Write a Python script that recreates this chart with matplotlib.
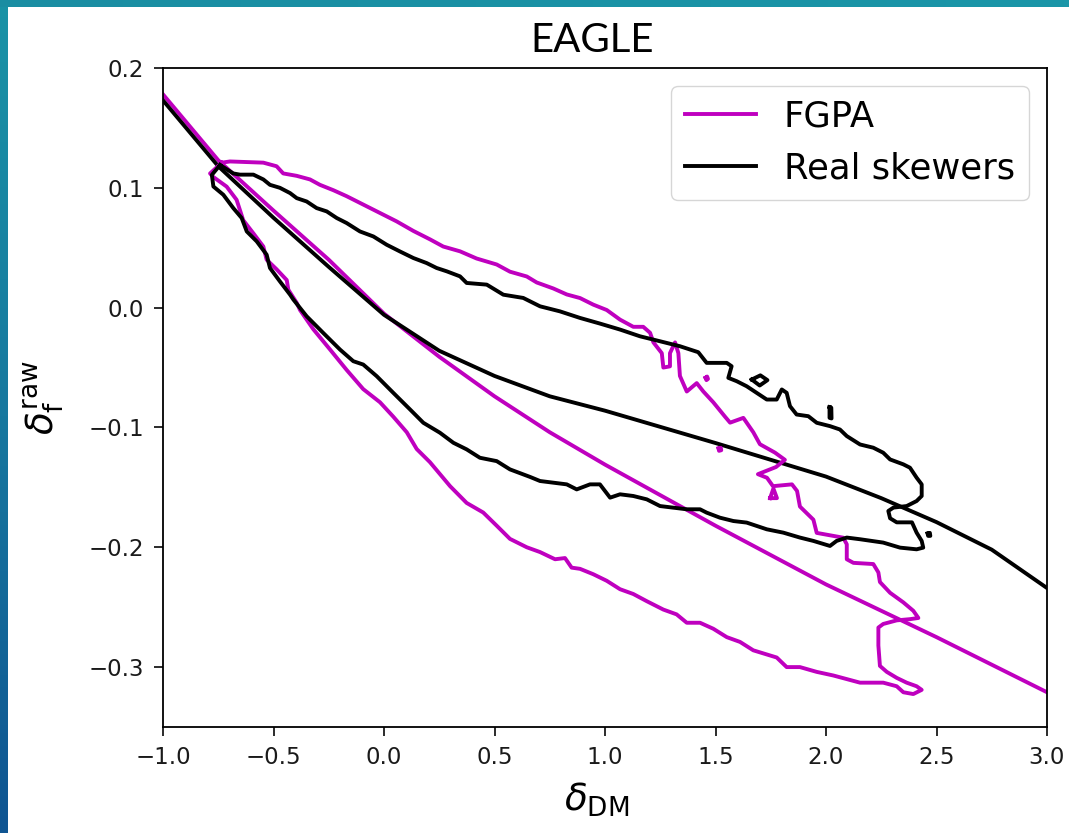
import numpy as np
import matplotlib
matplotlib.use('Agg')
from matplotlib import pyplot as plt
from matplotlib.colors import LinearSegmentedColormap

# Mean relation delta_f(delta_DM) for both flux models
fgpa_mean_x = [-1.0, -0.75, -0.5, -0.25, 0.0, 0.25, 0.5, 0.75, 1.0, 1.5, 2.0, 2.5, 3.0]
fgpa_mean_y = [0.178, 0.123, 0.081, 0.040, -0.005, -0.041, -0.074, -0.104, -0.131, -0.182, -0.231, -0.275, -0.321]

real_mean_x = [-1.0, -0.75, -0.5, -0.25, 0.0, 0.25, 0.5, 0.75, 1.0, 1.5, 2.0, 2.25, 2.5, 2.75, 3.0]
real_mean_y = [0.173, 0.118, 0.075, 0.034, -0.006, -0.036, -0.057, -0.074, -0.086, -0.113, -0.141, -0.159, -0.179, -0.202, -0.234]

# Outer density contour of the FGPA skewers (delta_DM, delta_f)
fgpa_contour = [
    (-0.734, 0.121), (-0.697, 0.122), (-0.546, 0.121), (-0.486, 0.118), (-0.456, 0.112),
    (-0.395, 0.110), (-0.335, 0.107), (-0.290, 0.1025), (-0.229, 0.098), (-0.169, 0.093),
    (-0.094, 0.086), (-0.018, 0.079), (0.057, 0.072), (0.133, 0.064), (0.208, 0.057),
    (0.268, 0.051), (0.344, 0.047), (0.419, 0.041), (0.510, 0.036), (0.570, 0.030),
    (0.646, 0.026), (0.691, 0.021), (0.766, 0.016), (0.827, 0.011), (0.887, 0.008),
    (0.947, 0.0025), (1.008, -0.002), (1.068, -0.010), (1.128, -0.016), (1.173, -0.016),
    (1.204, -0.021), (1.219, -0.029), (1.257, -0.038), (1.264, -0.050), (1.294, -0.049),
    (1.294, -0.038), (1.317, -0.029), (1.332, -0.038), (1.339, -0.057), (1.370, -0.070),
    (1.415, -0.063), (1.445, -0.070), (1.490, -0.079), (1.543, -0.091), (1.566, -0.096),
    (1.626, -0.092), (1.671, -0.104), (1.701, -0.114), (1.769, -0.121), (1.814, -0.127),
    (1.774, -0.133), (1.692, -0.139), (1.733, -0.142), (1.760, -0.149), (1.846, -0.1475),
    (1.869, -0.153), (1.882, -0.166), (1.943, -0.177), (1.958, -0.188), (2.048, -0.191),
    (2.078, -0.192), (2.094, -0.1975), (2.094, -0.210), (2.124, -0.213), (2.214, -0.214),
    (2.237, -0.221), (2.244, -0.229), (2.290, -0.238), (2.350, -0.246), (2.395, -0.253),
    (2.418, -0.259), (2.380, -0.260), (2.320, -0.261), (2.259, -0.264), (2.237, -0.267),
    (2.237, -0.282), (2.244, -0.299), (2.275, -0.304), (2.320, -0.309), (2.365, -0.313),
    (2.410, -0.316), (2.433, -0.319), (2.395, -0.3225), (2.350, -0.321), (2.320, -0.316),
    (2.259, -0.313), (2.154, -0.313), (2.033, -0.307), (1.958, -0.304), (1.882, -0.300),
    (1.822, -0.300), (1.777, -0.292), (1.671, -0.286), (1.611, -0.279), (1.551, -0.275),
    (1.490, -0.268), (1.430, -0.263), (1.370, -0.263), (1.324, -0.256), (1.264, -0.252),
    (1.189, -0.245), (1.128, -0.239), (1.068, -0.235), (1.008, -0.228), (0.947, -0.2225),
    (0.887, -0.218), (0.849, -0.217), (0.819, -0.209), (0.774, -0.210), (0.706, -0.204),
    (0.646, -0.200), (0.570, -0.193), (0.510, -0.182), (0.449, -0.171), (0.374, -0.163),
    (0.299, -0.149), (0.208, -0.129), (0.148, -0.118), (0.103, -0.104), (0.042, -0.091),
    (-0.018, -0.079), (-0.094, -0.068), (-0.169, -0.052), (-0.244, -0.035), (-0.320, -0.018),
    (-0.380, -0.002), (-0.395, 0.004), (-0.433, 0.015), (-0.440, 0.023), (-0.486, 0.032),
    (-0.531, 0.040), (-0.546, 0.051), (-0.591, 0.062), (-0.637, 0.073), (-0.667, 0.090),
    (-0.712, 0.101), (-0.772, 0.109), (-0.787, 0.112),
]

# Small detached FGPA contour pieces
fgpa_islands = [
    [(1.455, -0.0585), (1.462, -0.0575), (1.466, -0.0595), (1.459, -0.0605)],
    [(1.514, -0.1175), (1.524, -0.1170), (1.526, -0.1190), (1.516, -0.1195)],
    [(1.747, -0.159), (1.762, -0.151), (1.778, -0.159)],
]

# Outer density contour of the real skewers
real_contour = [
    (-0.742, 0.119), (-0.682, 0.112), (-0.652, 0.111), (-0.591, 0.111), (-0.546, 0.107),
    (-0.516, 0.1025), (-0.471, 0.100), (-0.425, 0.0956), (-0.395, 0.0914), (-0.350, 0.0886),
    (-0.305, 0.0831), (-0.259, 0.0803), (-0.214, 0.0748), (-0.169, 0.0706), (-0.109, 0.0636),
    (-0.048, 0.0594), (0.012, 0.0525), (0.072, 0.0469), (0.133, 0.0414), (0.193, 0.0372),
    (0.238, 0.0331), (0.284, 0.0303), (0.344, 0.0261), (0.374, 0.0206), (0.465, 0.0192),
    (0.540, 0.0108), (0.630, 0.0081), (0.706, 0.0011), (0.796, -0.0031), (0.887, -0.0086),
    (0.977, -0.0133), (1.068, -0.0183), (1.158, -0.0239), (1.249, -0.0281), (1.339, -0.0322),
    (1.422, -0.0372), (1.460, -0.0461), (1.551, -0.0461), (1.573, -0.0489), (1.558, -0.0586),
    (1.596, -0.0614), (1.641, -0.0656), (1.686, -0.0711), (1.732, -0.0767), (1.777, -0.0767),
    (1.800, -0.0683), (1.822, -0.0711), (1.837, -0.0822), (1.867, -0.0892), (1.920, -0.0906),
    (1.958, -0.0961), (2.018, -0.0989), (2.063, -0.1017), (2.094, -0.1072), (2.154, -0.1142),
    (2.214, -0.1169), (2.259, -0.1211), (2.290, -0.1267), (2.350, -0.1308), (2.380, -0.1336),
    (2.410, -0.1419), (2.433, -0.1475), (2.433, -0.1572), (2.410, -0.1614), (2.365, -0.1656),
    (2.305, -0.1669), (2.282, -0.1697), (2.290, -0.1758), (2.320, -0.1792), (2.389, -0.1792),
    (2.410, -0.1878), (2.433, -0.1947), (2.440, -0.2003), (2.410, -0.2017), (2.335, -0.2003),
    (2.259, -0.1961), (2.154, -0.1933), (2.094, -0.1919), (2.048, -0.1947), (2.018, -0.1989),
    (1.943, -0.1947), (1.882, -0.1919), (1.807, -0.1878), (1.732, -0.1850), (1.641, -0.1794),
    (1.581, -0.1781), (1.520, -0.1753), (1.460, -0.1711), (1.430, -0.1683), (1.370, -0.1683),
    (1.309, -0.1669), (1.249, -0.1656), (1.189, -0.1600), (1.128, -0.1572), (1.068, -0.1558),
    (1.023, -0.1586), (0.977, -0.1475), (0.932, -0.1475), (0.872, -0.1517), (0.827, -0.1475),
    (0.766, -0.1461), (0.706, -0.1447), (0.661, -0.1413), (0.570, -0.1350), (0.510, -0.1281),
    (0.434, -0.1253), (0.374, -0.1183), (0.314, -0.1128), (0.253, -0.1044), (0.178, -0.0961),
    (0.118, -0.0850), (0.042, -0.0711), (-0.033, -0.0572), (-0.094, -0.0475), (-0.139, -0.0447),
    (-0.199, -0.0350), (-0.275, -0.0211), (-0.350, -0.0072), (-0.410, 0.0067), (-0.425, 0.0108),
    (-0.471, 0.0219), (-0.516, 0.0331), (-0.531, 0.0442), (-0.576, 0.0553), (-0.621, 0.0636),
    (-0.644, 0.0748), (-0.682, 0.0831), (-0.727, 0.0942), (-0.772, 0.1011), (-0.779, 0.1108),
]

# Small detached real-skewer contour pieces
real_islands = [
    [(1.664, -0.0600), (1.703, -0.0565), (1.735, -0.0605), (1.700, -0.0650)],
    [(2.016, -0.0830), (2.024, -0.0835), (2.025, -0.0925), (2.016, -0.0920)],
    [(2.460, -0.1885), (2.470, -0.1880), (2.472, -0.1905), (2.462, -0.1905)],
]


def closed(points):
    arr = np.array(points + points[:1])
    return arr[:, 0], arr[:, 1]


fig = plt.figure(figsize=(10.69, 8.33), dpi=100)

# slide frame: teal bar along the top, blue strip down the left edge
strip_cmap = LinearSegmentedColormap.from_list('strip', ['#1a93a6', '#17789f', '#0f5592'])
left_ax = fig.add_axes([0, 0, 8 / 1069, 1])
left_ax.imshow(np.linspace(0, 1, 200).reshape(-1, 1), aspect='auto', cmap=strip_cmap)
left_ax.axis('off')
top_cmap = LinearSegmentedColormap.from_list('top', ['#1a8da2', '#1b96a8'])
top_ax = fig.add_axes([0, 1 - 7 / 833, 1, 7 / 833])
top_ax.imshow(np.linspace(0, 1, 200).reshape(1, -1), aspect='auto', cmap=top_cmap)
top_ax.axis('off')

ax = fig.add_axes([163 / 1069, 1 - 727 / 833, 884 / 1069, 659 / 833])

lw = 2.8
ax.plot(fgpa_mean_x, fgpa_mean_y, color='m', lw=lw, label='FGPA')
ax.plot(real_mean_x, real_mean_y, color='k', lw=lw, label='Real skewers')

cx, cy = closed(fgpa_contour)
ax.plot(cx, cy, color='m', lw=lw)
for isl in fgpa_islands:
    ix, iy = closed(isl)
    ax.plot(ix, iy, color='m', lw=lw)

cx, cy = closed(real_contour)
ax.plot(cx, cy, color='k', lw=lw)
for isl in real_islands:
    ix, iy = closed(isl)
    ax.plot(ix, iy, color='k', lw=lw)

ax.set_xlim(-1.0, 3.0)
ax.set_ylim(-0.35, 0.2)
ax.set_xticks([-1.0, -0.5, 0.0, 0.5, 1.0, 1.5, 2.0, 2.5, 3.0])
ax.set_yticks([-0.3, -0.2, -0.1, 0.0, 0.1, 0.2])
ax.tick_params(labelsize=16.5, length=6.7, width=1.3, pad=7, colors='#1a1a1a')
for sp in ax.spines.values():
    sp.set_linewidth(1.3)

ax.set_xlabel(r'$\delta_{\rm DM}$', fontsize=27)
ax.set_ylabel(r'$\delta_{\rm f}^{\rm raw}$', fontsize=27)
ax.xaxis.set_label_coords(0.49, -0.082)
ax.yaxis.set_label_coords(-0.11, 0.5)

ax.legend(loc='upper right', fontsize=25.5, handlelength=2.0, borderaxespad=0.5)

fig.text(592 / 1069, 1 - 41 / 833, 'EAGLE', family='Lato', fontsize=29,
         ha='center', va='center')

fig.savefig('out.png', dpi=100)
